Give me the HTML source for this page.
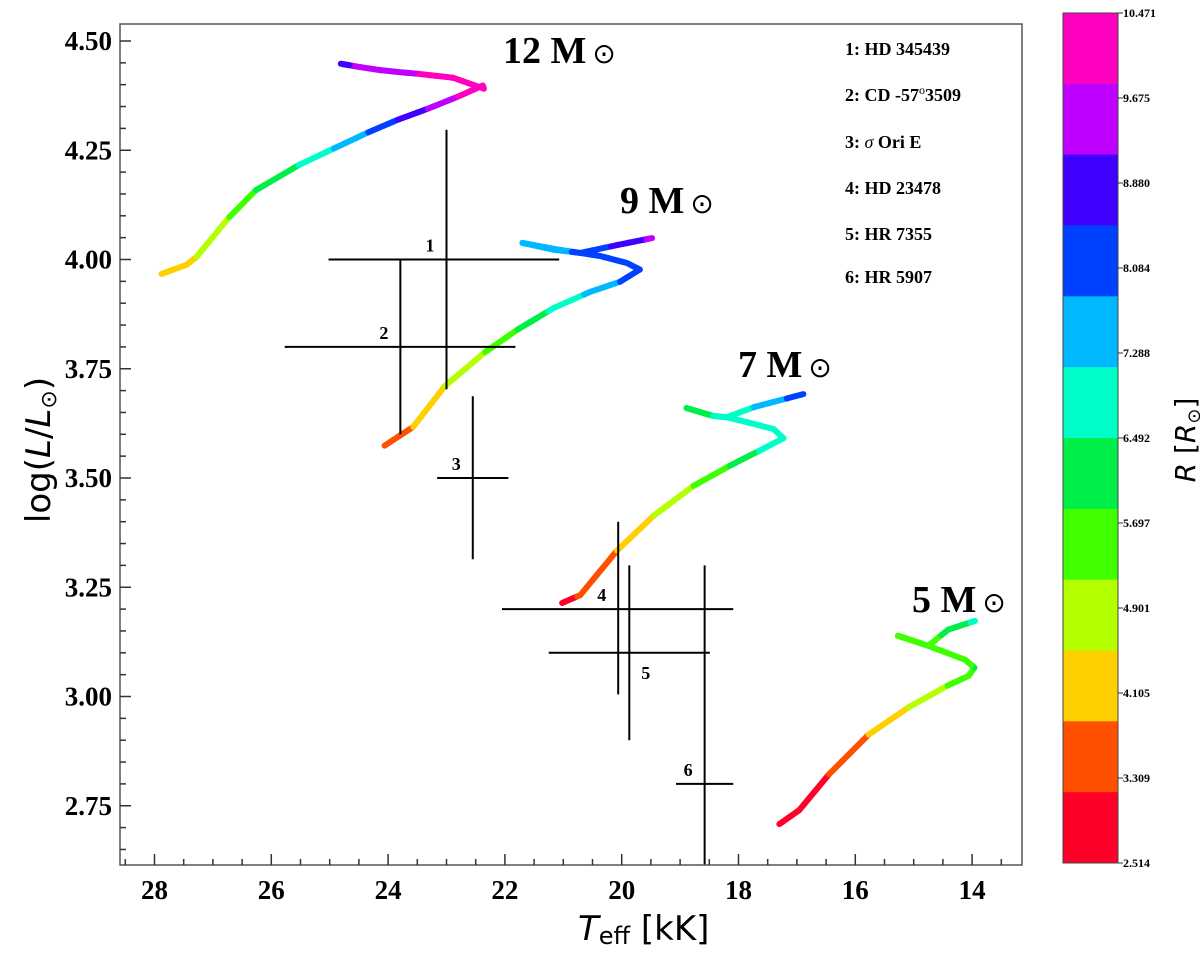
<!DOCTYPE html>
<html><head><meta charset="utf-8"><style>
body{margin:0;background:#fff;width:1200px;height:952px;overflow:hidden}
svg text{font-family:"Liberation Serif",serif;font-weight:bold}
</style></head><body>
<svg id="chart" width="1200" height="952" viewBox="0 0 1200 952" xmlns="http://www.w3.org/2000/svg">
<g id="tracks"></g>
<g id="errs"></g>
<rect x="120" y="24" width="902" height="841" fill="none" stroke="#555" stroke-width="1.5"/>
<g id="axes"></g>
<g font-size="38">
<text x="503" y="63">12 M<tspan font-family="DejaVu Sans" font-weight="normal" font-size="28" dx="6">⊙</tspan></text>
<text x="620" y="213">9 M<tspan font-family="DejaVu Sans" font-weight="normal" font-size="28" dx="6">⊙</tspan></text>
<text x="738" y="377">7 M<tspan font-family="DejaVu Sans" font-weight="normal" font-size="28" dx="6">⊙</tspan></text>
<text x="912" y="612">5 M<tspan font-family="DejaVu Sans" font-weight="normal" font-size="28" dx="6">⊙</tspan></text>
</g>
<g font-size="18">
<text x="845" y="55">1: HD 345439</text>
<text x="845" y="101">2: CD -57<tspan font-weight="normal" font-size="12" dy="-7">o</tspan><tspan dy="7">3509</tspan></text>
<text x="845" y="148">3: <tspan font-style="italic" font-weight="normal">σ</tspan> Ori E</text>
<text x="845" y="194">4: HD 23478</text>
<text x="845" y="240">5: HR 7355</text>
<text x="845" y="283">6: HR 5907</text>
</g>
<text x="578" y="940" font-size="34" style="font-family:'DejaVu Sans',sans-serif;font-weight:normal"><tspan font-style="italic">T</tspan><tspan font-size="24" dy="4">eff</tspan><tspan dy="-4"> [kK]</tspan></text>
<text transform="translate(50,450) rotate(-90)" text-anchor="middle" font-size="34" style="font-family:'DejaVu Sans',sans-serif;font-weight:normal">log(<tspan font-style="italic">L</tspan>/<tspan font-style="italic">L</tspan><tspan font-size="22" dy="6">⊙</tspan><tspan dy="-6">)</tspan></text>
<g id="cbar"></g>
<text transform="translate(1195,440) rotate(-90)" text-anchor="middle" font-size="28" style="font-family:'DejaVu Sans',sans-serif;font-weight:normal"><tspan font-style="italic">R</tspan> [<tspan font-style="italic">R</tspan><tspan font-size="18" dy="5">⊙</tspan><tspan dy="-5">]</tspan></text>
</svg>
<script>
const NS="http://www.w3.org/2000/svg";
// data
const track12T=[27.88,27.45,27.28,26.72,26.26,25.53,24.93,24.34,23.83,23.32,22.80,22.38,22.36,22.89,23.49,23.83,24.17,24.51,24.81];
const track12L=[3.967,3.988,4.006,4.097,4.159,4.216,4.254,4.291,4.320,4.345,4.373,4.398,4.391,4.416,4.425,4.429,4.434,4.441,4.448];
const track9T=[24.06,23.57,23.03,22.34,21.78,21.15,20.54,20.03,19.69,19.91,20.37,20.71,21.15,21.70,21.15,20.71,20.08,19.48];
const track9L=[3.574,3.617,3.710,3.788,3.840,3.890,3.926,3.949,3.977,3.992,4.008,4.015,4.024,4.038,4.022,4.015,4.033,4.049];
const track7T=[21.02,20.71,20.37,20.08,19.45,18.77,18.15,17.65,17.23,17.40,17.86,18.20,18.43,18.89,18.43,18.20,17.74,16.89];
const track7L=[3.214,3.232,3.287,3.334,3.414,3.482,3.528,3.562,3.591,3.612,3.628,3.639,3.642,3.660,3.642,3.639,3.662,3.692];
const track5T=[17.30,16.96,16.45,15.77,15.09,14.42,14.06,13.96,14.12,14.75,15.02,15.27,15.02,14.75,14.41,13.95];
const track5L=[2.708,2.740,2.822,2.913,2.975,3.025,3.047,3.066,3.084,3.116,3.128,3.139,3.128,3.116,3.153,3.173];
const starIds=["1","2","3","4","5","6"];
const starT=[23.0,23.79,22.55,20.06,19.87,18.58];
const starL=[4.00,3.80,3.50,3.20,3.10,2.80];
const starTlo=[25.02,25.77,23.16,22.05,21.25,19.07];
const starThi=[21.07,21.82,21.94,18.09,18.49,18.09];
const starLlo=[3.703,3.60,3.314,3.005,2.90,2.55];
const starLhi=[4.297,4.00,3.687,3.40,3.30,3.30];
const xTicks=[28,26,24,22,20,18,16,14];
const yTicks=[4.50,4.25,4.00,3.75,3.50,3.25,3.00,2.75];
const cbarTicks=["10.471","9.675","8.880","8.084","7.288","6.492","5.697","4.901","4.105","3.309","2.514"];
const cbarColors=["#ff00c0","#c000ff","#4000ff","#0040ff","#00b8ff","#00ffc8","#00ee48","#40ff00","#b4ff00","#ffd000","#ff5000","#ff0028"];
const Rmin=2.514,Rmax=10.471;

const X=t=>154.5+(28-t)*58.4;
const Y=l=>41+(4.5-l)*437;
const clipL=120,clipR=1022,clipT=24,clipB=865;
function mk(tag,attrs,parent){const e=document.createElementNS(NS,tag);for(const k in attrs)e.setAttribute(k,attrs[k]);parent.appendChild(e);return e;}
const tracksG=document.getElementById('tracks');
function radius(t,l){return Math.sqrt(Math.pow(10,l))*Math.pow(5.772/t,2);}
function colorFor(r){const n=cbarColors.length;let i=Math.floor((r-Rmin)/(Rmax-Rmin)*n);i=Math.max(0,Math.min(n-1,i));return cbarColors[n-1-i];}
function drawTrack(T,L,name){
  const g=mk('g',{},tracksG);
  
  
  // subdivide for smoother colour transitions
  for(let i=0;i<T.length-1;i++){
    const N=6;
    for(let k=0;k<N;k++){
      const t1=T[i]+(T[i+1]-T[i])*k/N,l1=L[i]+(L[i+1]-L[i])*k/N;
      const t2=T[i]+(T[i+1]-T[i])*(k+1)/N,l2=L[i]+(L[i+1]-L[i])*(k+1)/N;
      const r=radius((t1+t2)/2,(l1+l2)/2);
      const seg=mk('line',{x1:X(t1),y1:Y(l1),x2:X(t2),y2:Y(l2),stroke:colorFor(r),'stroke-width':6,'stroke-linecap':'round'},g);
      
      
    }
  }
}
drawTrack(track12T,track12L,'track-12msun');
drawTrack(track9T,track9L,'track-9msun');
drawTrack(track7T,track7L,'track-7msun');
drawTrack(track5T,track5L,'track-5msun');

const errG=document.getElementById('errs');
for(let i=0;i<starIds.length;i++){
  const g=mk('g',{stroke:'#000','stroke-width':2},errG);
  
  
  mk('line',{x1:X(starTlo[i]),x2:X(starThi[i]),y1:Y(starL[i]),y2:Y(starL[i])},g);
  mk('line',{x1:X(starT[i]),x2:X(starT[i]),y1:Math.min(clipB,Y(starLlo[i])),y2:Y(starLhi[i])},g);
  const tx=mk('text',{x:X(starT[i])-12,y:Y(starL[i])-8,'font-size':18,'text-anchor':'end',stroke:'none'},errG);
  
  
  if(starIds[i]==="5"){tx.setAttribute('x',X(starT[i])+12);tx.setAttribute('y',Y(starL[i])+26);tx.setAttribute('text-anchor','start');}
  tx.textContent=starIds[i];
}

const ax=document.getElementById('axes');
for(let t=28.5;t>=13.2;t-=0.5){
  const major=Math.abs(t%2)<1e-6;
  mk('line',{x1:X(t),x2:X(t),y1:clipB,y2:clipB-(major?11:6),stroke:'#333','stroke-width':1.5},ax);
}
xTicks.forEach(t=>{const e=mk('text',{x:X(t),y:clipB+34,'text-anchor':'middle','font-size':27},ax);


e.textContent=t;});
for(let k=0;k<=38;k++){const l=2.65+k*0.05;if(l>4.54)break;
  const major=Math.abs((l*100)%25)<0.01||Math.abs((l*100)%25-25)<0.01;
  mk('line',{x1:clipL,x2:clipL+(major?11:6),y1:Y(l),y2:Y(l),stroke:'#333','stroke-width':1.5},ax);}
yTicks.forEach(l=>{const e=mk('text',{x:112,y:Y(l)+9,'text-anchor':'end','font-size':27},ax);


e.textContent=l.toFixed(2);});

const cb=document.getElementById('cbar');
const cx=1063,cw=55,ct=13,chh=850;
cbarColors.forEach((c,i)=>{const r=mk('rect',{x:cx,y:ct+i*chh/cbarColors.length,width:cw,height:chh/cbarColors.length+0.5,fill:c},cb);

});
mk('rect',{x:cx,y:ct,width:cw,height:chh,fill:'none',stroke:'#444','stroke-width':1},cb);
cbarTicks.forEach((s,i)=>{const y=ct+i*chh/(cbarTicks.length-1);
  mk('line',{x1:cx+cw,x2:cx+cw+5,y1:y,y2:y,stroke:'#333','stroke-width':1},cb);
  const e=mk('text',{x:cx+cw+5,y:y+4,'font-size':12},cb);
  
  
  e.textContent=s;});
</script>
</body></html>
